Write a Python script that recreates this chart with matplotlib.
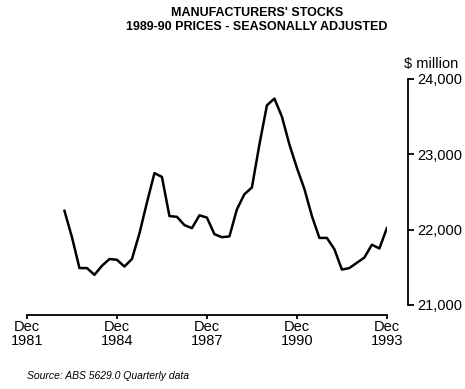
import matplotlib.pyplot as plt

plt.rcParams['font.family'] = 'Liberation Sans'

# quarterly stocks, Mar 1983 to Dec 1993 ($ million, 1989-90 prices)
start_quarter = 5  # quarters after Dec 1981
stocks = [22250, 21900, 21490, 21490, 21400, 21520, 21610, 21600,
          21510, 21610, 21950, 22360, 22750, 22700, 22180, 22170,
          22060, 22020, 22190, 22160, 21940, 21900, 21910, 22270,
          22470, 22560, 23130, 23650, 23740, 23500, 23130, 22820,
          22540, 22180, 21890, 21890, 21740, 21470, 21490, 21560,
          21630, 21800, 21750, 22020]
quarters = list(range(start_quarter, start_quarter + len(stocks)))

tick_quarters = [0, 12, 24, 36, 48]
tick_labels = ['Dec\n1981', 'Dec\n1984', 'Dec\n1987', 'Dec\n1990', 'Dec\n1993']
y_ticks = [21000, 22000, 23000, 24000]

fig = plt.figure(figsize=(4.65, 3.89), dpi=100)
ax = fig.add_axes([0.058, 0.216, 0.774, 0.581])

ax.plot(quarters, stocks, color='black', linewidth=1.8)

ax.set_xlim(0, 48)
ax.set_ylim(21000, 24000)

# axes pulled away from the data, y axis on the right
for side in ['top', 'left']:
    ax.spines[side].set_visible(False)
ax.spines['bottom'].set_position(('outward', 7))
ax.spines['right'].set_position(('outward', 15))
ax.spines['bottom'].set_linewidth(1.3)
ax.spines['right'].set_linewidth(1.3)

ax.set_xticks(tick_quarters)
ax.set_xticklabels(tick_labels, fontsize=10.5, linespacing=1.0)
ax.set_yticks(y_ticks)
ax.set_yticklabels([f'{v:,}' for v in y_ticks], fontsize=10.5)
ax.yaxis.tick_right()
ax.tick_params(axis='x', length=3, width=1.3, pad=1)
ax.tick_params(axis='y', length=4, width=1.3, pad=3)

fig.text(0.552, 0.982, "MANUFACTURERS' STOCKS\n1989-90 PRICES - SEASONALLY ADJUSTED",
         ha='center', va='top', fontsize=9, fontweight='bold', linespacing=1.2)
fig.text(0.868, 0.818, '$ million', ha='left', va='bottom', fontsize=10.5)
fig.text(0.058, 0.02, 'Source: ABS 5629.0 Quarterly data', ha='left', va='bottom',
         fontsize=7.5, style='italic')

fig.savefig('out.png', dpi=100)
